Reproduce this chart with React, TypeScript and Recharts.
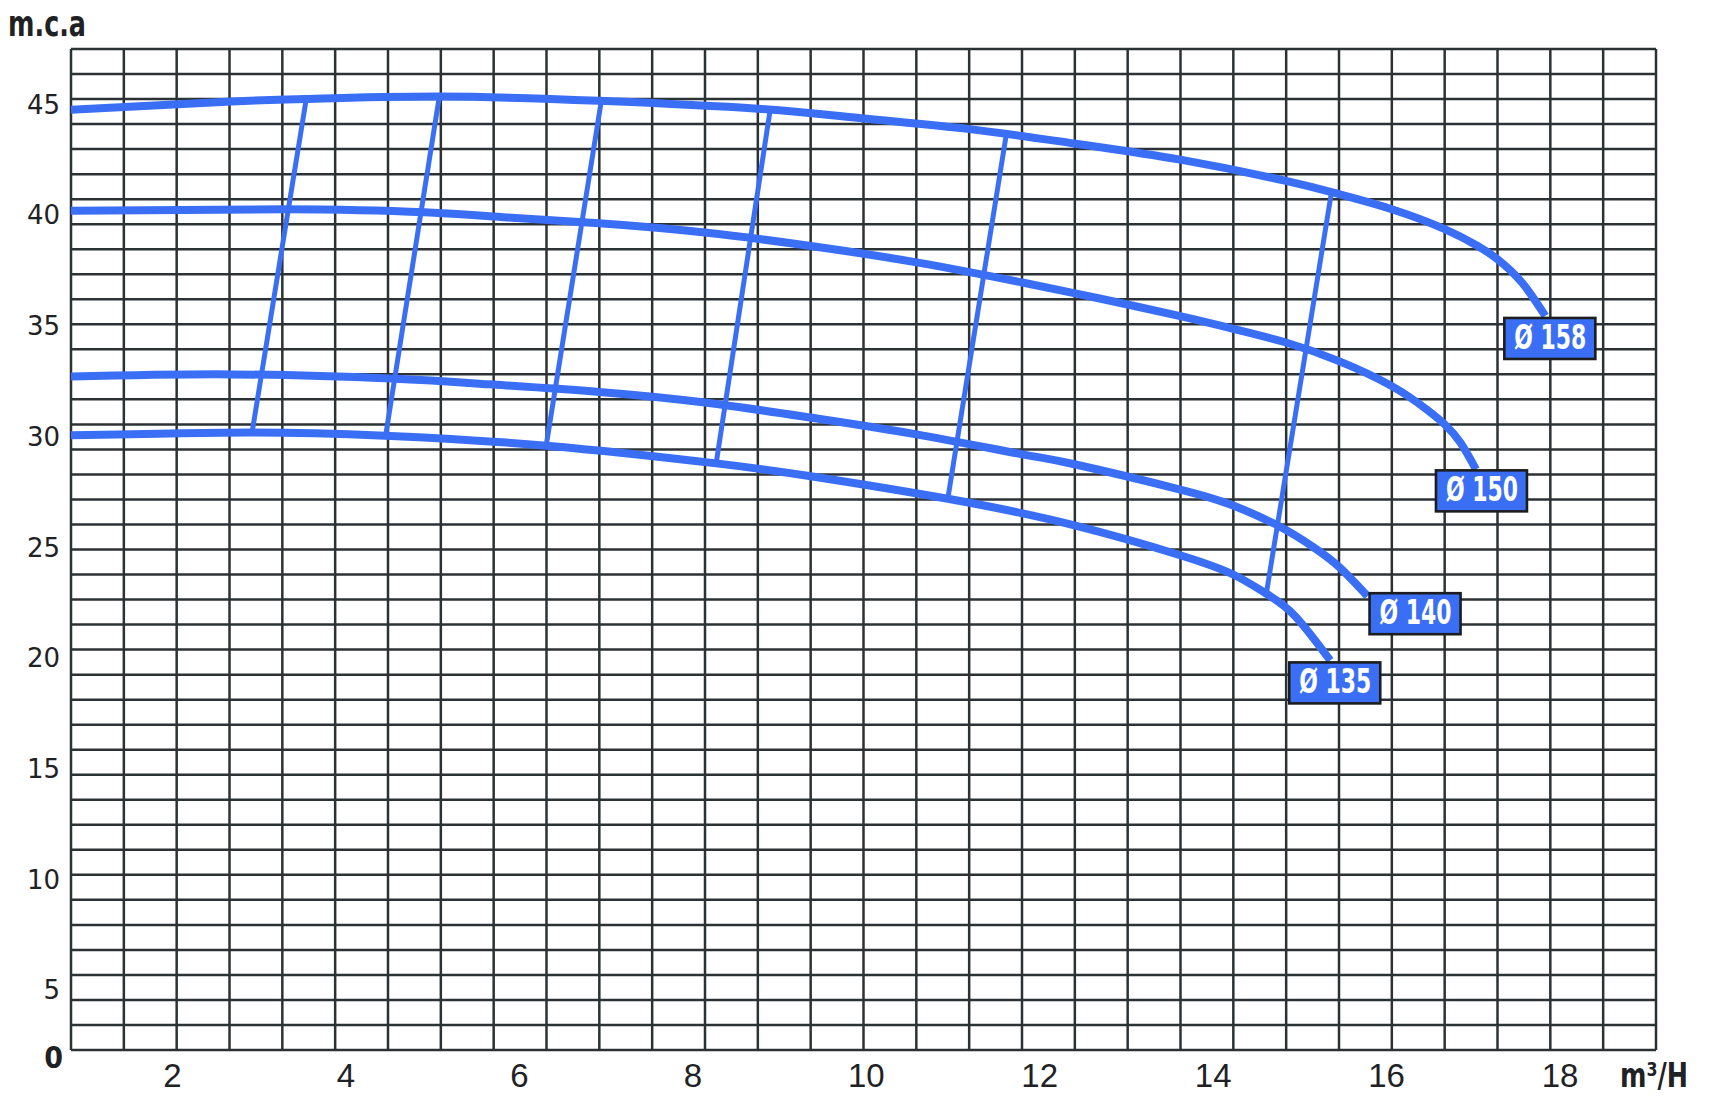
import React from "react";
import { LineChart, Line, XAxis, YAxis, CartesianGrid } from "recharts";

// ---- axis values ----
const X_TICKS = [2, 4, 6, 8, 10, 12, 14, 16, 18];
const Y_TICKS = [5, 10, 15, 20, 25, 30, 35, 40, 45];
const X_MIN = 0.83;
const X_MAX = 19.106;
const Y_MIN = 2.3;
const Y_MAX = 47.52;

// ---- pump curves (q = m3/H, h = m.c.a) ----
const CURVE_158 = [
  { q: 0.83, h: 44.78 }, { q: 2.68, h: 45.15 }, { q: 3.52, h: 45.26 }, { q: 5.08, h: 45.37 },
  { q: 6.92, h: 45.18 }, { q: 8.75, h: 44.82 }, { q: 9.97, h: 44.38 }, { q: 11.19, h: 43.9 },
  { q: 12.4, h: 43.25 }, { q: 13.62, h: 42.52 }, { q: 14.84, h: 41.56 }, { q: 15.45, h: 40.96 },
  { q: 16.06, h: 40.28 }, { q: 16.67, h: 39.38 }, { q: 17.05, h: 38.62 }, { q: 17.28, h: 38.02 },
  { q: 17.56, h: 36.97 }, { q: 17.83, h: 35.46 },
];
const CURVE_150 = [
  { q: 0.83, h: 40.21 }, { q: 3.28, h: 40.28 }, { q: 4.91, h: 40.14 }, { q: 5.86, h: 39.91 },
  { q: 6.92, h: 39.65 }, { q: 8.14, h: 39.23 }, { q: 9.36, h: 38.62 }, { q: 10.58, h: 37.88 },
  { q: 11.8, h: 36.97 }, { q: 12.69, h: 36.25 }, { q: 13.62, h: 35.45 }, { q: 14.23, h: 34.88 },
  { q: 14.84, h: 34.26 }, { q: 15.45, h: 33.42 }, { q: 16.06, h: 32.29 }, { q: 16.46, h: 31.24 },
  { q: 16.67, h: 30.56 }, { q: 16.85, h: 29.74 }, { q: 17.03, h: 28.53 },
];
const CURVE_140 = [
  { q: 0.83, h: 32.72 }, { q: 2.68, h: 32.82 }, { q: 4.51, h: 32.63 }, { q: 5.66, h: 32.37 },
  { q: 6.92, h: 32.03 }, { q: 8.14, h: 31.55 }, { q: 9.36, h: 30.87 }, { q: 10.58, h: 30.11 },
  { q: 11.8, h: 29.21 }, { q: 12.4, h: 28.76 }, { q: 13.62, h: 27.62 }, { q: 14.23, h: 26.9 },
  { q: 14.75, h: 25.98 }, { q: 15.15, h: 25.03 }, { q: 15.45, h: 24.13 }, { q: 15.78, h: 22.8 },
];
const CURVE_135 = [
  { q: 0.83, h: 30.07 }, { q: 2.92, h: 30.2 }, { q: 4.45, h: 30.05 }, { q: 6.31, h: 29.6 },
  { q: 8.27, h: 28.8 }, { q: 9.36, h: 28.22 }, { q: 10.94, h: 27.2 }, { q: 12.4, h: 26.0 },
  { q: 13.62, h: 24.65 }, { q: 14.23, h: 23.78 }, { q: 14.61, h: 22.92 }, { q: 14.94, h: 21.92 },
  { q: 15.35, h: 19.9 },
];

// ---- connecting lines between diameters ----
const ISO_A = [{ q: 3.54, h: 45.2 }, { q: 2.92, h: 30.25 }];
const ISO_B = [{ q: 5.08, h: 45.45 }, { q: 4.46, h: 30.1 }];
const ISO_C = [{ q: 6.95, h: 45.3 }, { q: 6.31, h: 29.62 }];
const ISO_D = [{ q: 8.89, h: 44.72 }, { q: 8.27, h: 28.82 }];
const ISO_E = [{ q: 11.61, h: 43.55 }, { q: 10.94, h: 27.2 }];
const ISO_F = [{ q: 15.36, h: 40.95 }, { q: 14.61, h: 22.85 }];

const LABELS = ["Ø 158", "Ø 150", "Ø 140", "Ø 135"];
const Y_TITLE = "m.c.a";
const X_TITLE = "m³/H";

// ---- styles ----
const BLUE = "#3a6ff5";
const GRID = "#2c3234";
const TEXT = "#1f2224";
const NARROW = "'Liberation Sans Narrow', 'DejaVu Sans Condensed', 'Arial Narrow', sans-serif";

const W = 1700;
const H = 1086;
const M = { top: 41, left: 8, right: 52, bottom: 10 };
const YAXIS_W = 55;
const XAXIS_H = 34;
const PLOT_L = M.left + YAXIS_W;
const PLOT_W = W - PLOT_L - M.right;
const PLOT_H = H - M.top - M.bottom - XAXIS_H;
const V_PTS = Array.from({ length: 31 }, (_, i) => PLOT_L + (i * PLOT_W) / 30);
const H_PTS = Array.from({ length: 41 }, (_, i) => M.top + (i * PLOT_H) / 40);

const XTick = (props: any) => {
  const { x, y, payload } = props;
  return (
    <text x={x} y={y} textAnchor="middle" dominantBaseline="central"
      fontFamily="'Liberation Sans', Arial, sans-serif" fontSize={33} fill={TEXT}>
      {payload.value}
    </text>
  );
};

const YTick = (props: any) => {
  const { x, y, payload } = props;
  if (payload.value === Y_MIN) {
    return (
      <text x={x + 3} y={y + 7} textAnchor="end" dominantBaseline="central"
        fontFamily={NARROW} fontWeight="bold" fontSize={30} fill={TEXT}>
        0
      </text>
    );
  }
  return (
    <text x={x} y={y} textAnchor="end" dominantBaseline="central"
      fontFamily="'DejaVu Sans', sans-serif" fontSize={26} fill={TEXT}>
      {payload.value}
    </text>
  );
};

const makeEndLabel = (text: string, last: number, dx: number, dy: number) => (props: any) => {
  const { cx, cy, index } = props;
  if (index !== last) return <g key={`e-${index}`} />;
  const bx = cx + dx;
  const by = cy + dy;
  return (
    <g key={`e-${index}`}>
      <rect x={bx} y={by} width={91} height={41} fill={BLUE} stroke="#1b1d1e" strokeWidth={2.6} />
      <text x={bx + 46} y={by + 19.5} textAnchor="middle" dominantBaseline="central"
        fill="#ffffff" fontFamily={NARROW} fontWeight="bold" fontSize={33}
        textLength={72} lengthAdjust="spacingAndGlyphs">
        {text}
      </text>
    </g>
  );
};

const ISOS = [ISO_A, ISO_B, ISO_C, ISO_D, ISO_E, ISO_F];

export default function App() {
  return (
    <div style={{ position: "relative", width: W, height: H }}>
      <LineChart width={W} height={H} margin={M}>
        <CartesianGrid stroke={GRID} strokeWidth={2.5} horizontalPoints={H_PTS} verticalPoints={V_PTS} />
        <XAxis type="number" dataKey="q" domain={[X_MIN, X_MAX]} ticks={X_TICKS} allowDataOverflow
          axisLine={false} tickLine={false} tickSize={0} tickMargin={25} height={XAXIS_H}
          interval={0} tick={XTick} />
        <YAxis type="number" domain={[Y_MIN, Y_MAX]} ticks={[Y_MIN, ...Y_TICKS]} allowDataOverflow
          axisLine={false} tickLine={false} tickSize={0} tickMargin={11} width={YAXIS_W}
          interval={0} tick={YTick} />
        {ISOS.map((d, i) => (
          <Line key={`iso-${i}`} data={d} dataKey="h" type="linear" stroke={BLUE} strokeWidth={5}
            dot={false} activeDot={false} isAnimationActive={false} />
        ))}
        <Line data={CURVE_135} dataKey="h" type="natural" stroke={BLUE} strokeWidth={8}
          dot={makeEndLabel(LABELS[3], CURVE_135.length - 1, -41, 2)} activeDot={false} isAnimationActive={false} />
        <Line data={CURVE_140} dataKey="h" type="natural" stroke={BLUE} strokeWidth={8}
          dot={makeEndLabel(LABELS[2], CURVE_140.length - 1, 2, -3)} activeDot={false} isAnimationActive={false} />
        <Line data={CURVE_150} dataKey="h" type="natural" stroke={BLUE} strokeWidth={8}
          dot={makeEndLabel(LABELS[1], CURVE_150.length - 1, -40, 1)} activeDot={false} isAnimationActive={false} />
        <Line data={CURVE_158} dataKey="h" type="natural" stroke={BLUE} strokeWidth={8}
          dot={makeEndLabel(LABELS[0], CURVE_158.length - 1, -41, 2)} activeDot={false} isAnimationActive={false} />
      </LineChart>
      <svg width={W + 8} height={H + 8}
        style={{ position: "absolute", left: -8, top: -8, pointerEvents: "none", overflow: "visible" }}>
        <text x={8} y={36} fontFamily={NARROW} fontWeight="bold" fontSize={35} fill={TEXT}
          textLength={78} lengthAdjust="spacingAndGlyphs">{Y_TITLE}</text>
        <text x={1620} y={1087} fontFamily={NARROW} fontWeight="bold" fontSize={34} fill={TEXT}
          textLength={68} lengthAdjust="spacingAndGlyphs">{X_TITLE}</text>
      </svg>
    </div>
  );
}
